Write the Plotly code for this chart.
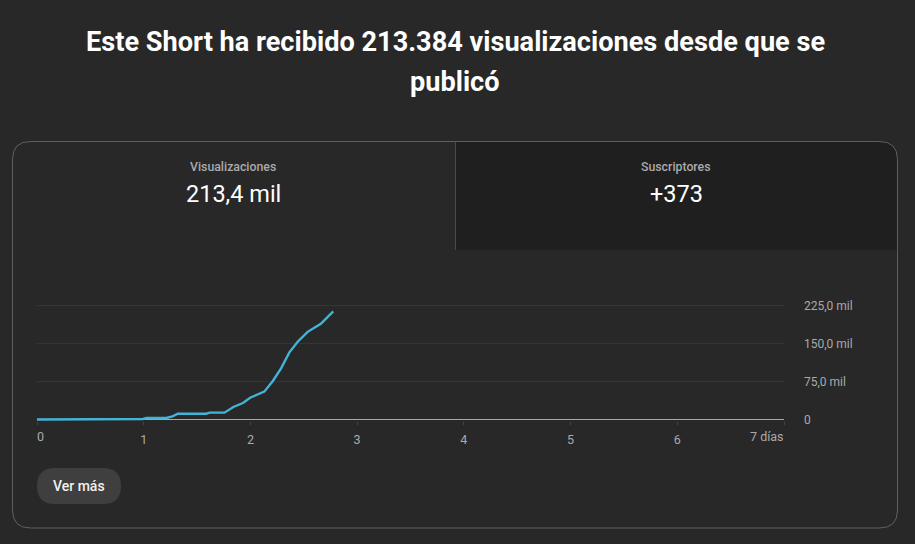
import plotly.graph_objects as go

W, H = 915, 544

days = [0, 0.417, 0.495, 0.994, 1.025, 1.21, 1.27, 1.32, 1.586, 1.617, 1.757, 1.84, 1.93,
        1.997, 2.13, 2.21, 2.287, 2.365, 2.443, 2.536, 2.66, 2.776]
views_k = [0, 0, 1, 1, 3, 3, 6.2, 11.5, 11.5, 13.5, 13.5, 24.7, 32.6,
           43, 55, 76, 101, 132.5, 153.6, 173, 189, 213.4]
x_ticks = [0, 1, 2, 3, 4, 5, 6, 7]
x_labels = ["", "1", "2", "3", "4", "5", "6", ""]
y_ticks = [0, 75, 150, 225]
y_labels = ["0", "75,0 mil", "150,0 mil", "225,0 mil"]
title_lines = ["Este Short ha recibido 213.384 visualizaciones desde que se", "publicó"]

BG = "#282828"
TAB = "#1f1f1f"
BORDER = "#606060"
MUTED = "#aaaaaa"
FONT = "Roboto"


def px(x):
    return x / W


def py(y):
    return 1 - y / H


def rounded(x0, y0, x1, y1, tl, tr, br, bl):
    def p(x, y):
        return f"{px(x):.5f},{py(y):.5f}"
    return (f"M{p(x0 + tl, y0)} L{p(x1 - tr, y0)} Q{p(x1, y0)} {p(x1, y0 + tr)} "
            f"L{p(x1, y1 - br)} Q{p(x1, y1)} {p(x1 - br, y1)} "
            f"L{p(x0 + bl, y1)} Q{p(x0, y1)} {p(x0, y1 - bl)} "
            f"L{p(x0, y0 + tl)} Q{p(x0, y0)} {p(x0 + tl, y0)} Z")


def shape(path, fill="rgba(0,0,0,0)", line=None):
    return dict(type="path", path=path, xref="paper", yref="paper", layer="below",
                fillcolor=fill, line=dict(color=line or "rgba(0,0,0,0)", width=1 if line else 0))


def text(s, x, y, size, color, weight=400, anchor="center"):
    return dict(text=s, x=px(x), y=py(y), xref="paper", yref="paper", xanchor=anchor,
                yanchor="middle", showarrow=False,
                font=dict(family=FONT, size=size, color=color, weight=weight))


fig = go.Figure(go.Scatter(x=days, y=views_k, mode="lines", hoverinfo="skip",
                           line=dict(color="#43b3d6", width=2.4), cliponaxis=False))

shapes = [
    shape(rounded(456, 141.5, 897.5, 250, 0, 18, 0, 0), fill=TAB),
    shape(rounded(12.5, 141.5, 897.5, 528, 18, 18, 18, 18), line=BORDER),
    shape(f"M{px(455.5):.5f},{py(141.5):.5f} L{px(455.5):.5f},{py(250):.5f}", line="#4a4a4a"),
    shape(rounded(37, 468, 121, 504, 18, 18, 18, 18), fill="#3f3f3f"),
]

annotations = [
    text(title_lines[0], 455.5, 41.5, 27.15, "#ffffff", 700),
    text(title_lines[1], 455, 82, 27.15, "#ffffff", 700),
    text("Visualizaciones", 233.5, 167, 12.3, MUTED, 500),
    text("213,4 mil", 233.5, 194, 23.5, "#ffffff"),
    text("Suscriptores", 676, 167, 12.3, MUTED, 500),
    text("+373", 676, 194, 23.5, "#ffffff"),
    text("Ver más", 79, 486, 14, "#f1f1f1", 500),
    text("0", 40, 436.5, 12.5, MUTED),
    text("7 días", 786, 436.5, 12.5, MUTED, anchor="right"),
]

PX_PER_K = 38 / 75
Y_TOP = 236
Y_BOTTOM = -3

fig.update_layout(
    width=W, height=H, margin=dict(l=0, r=0, t=0, b=0, autoexpand=False), autosize=False,
    paper_bgcolor=BG, plot_bgcolor=BG, showlegend=False,
    shapes=shapes, annotations=annotations,
    font=dict(family=FONT, size=12, color=MUTED),
    xaxis=dict(domain=[px(37), px(784)], range=[0, 7], showgrid=False, zeroline=False,
               tickmode="array", tickvals=x_ticks, ticktext=x_labels,
               ticks="outside", ticklen=3, tickcolor="#444444", tickwidth=1,
               showline=False, ticklabelstandoff=4, automargin=False,
               tickfont=dict(family=FONT, size=12.5, color=MUTED)),
    yaxis=dict(domain=[py(419.5 - Y_BOTTOM * PX_PER_K), py(419.5 - Y_TOP * PX_PER_K)],
               range=[Y_BOTTOM, Y_TOP], side="right",
               anchor="x", tickmode="array", tickvals=y_ticks, ticktext=y_labels,
               gridcolor="#353535", gridwidth=1, zeroline=True, zerolinecolor="#a8a8a8",
               zerolinewidth=1, ticks="", ticklabelstandoff=19, automargin=False,
               tickfont=dict(family=FONT, size=12, color=MUTED)),
)

fig.write_html("out.html", config={"displayModeBar": False},
               post_script="document.body.style.margin='0';document.body.style.background='#282828';")
